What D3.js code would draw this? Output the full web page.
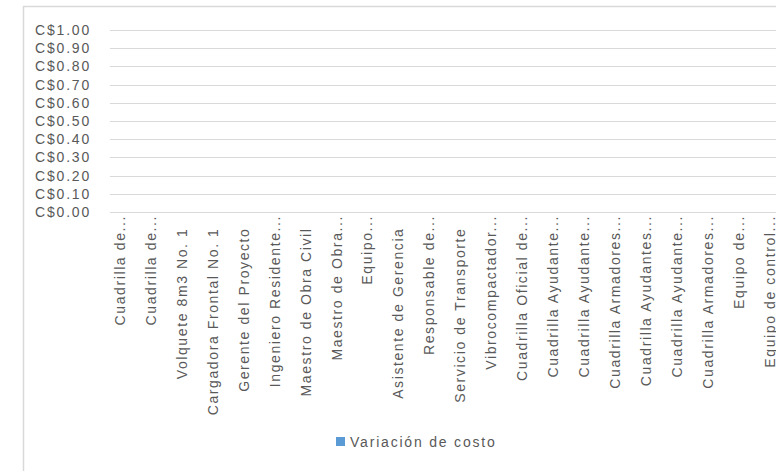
<!DOCTYPE html>
<html>
<head>
<meta charset="utf-8">
<script src="https://cdn.jsdelivr.net/npm/d3@7"></script>
<style>
  html, body { margin: 0; padding: 0; background: #ffffff; }
  svg { display: block; }
  text { font-family: "Liberation Sans", Arial, sans-serif; }
</style>
</head>
<body>
<svg id="chart" width="776" height="471"></svg>
<script>
const categories = [
  "Cuadrilla de...",
  "Cuadrilla de...",
  "Volquete 8m3 No. 1",
  "Cargadora Frontal No. 1",
  "Gerente del Proyecto",
  "Ingeniero Residente...",
  "Maestro de Obra Civil",
  "Maestro de Obra...",
  "Equipo...",
  "Asistente de Gerencia",
  "Responsable de...",
  "Servicio de Transporte",
  "Vibrocompactador...",
  "Cuadrilla Oficial de...",
  "Cuadrilla Ayudante...",
  "Cuadrilla Ayudante...",
  "Cuadrilla Armadores...",
  "Cuadrilla Ayudantes...",
  "Cuadrilla Ayudante...",
  "Cuadrilla Armadores...",
  "Equipo de...",
  "Equipo de control..."
];
const costVariation = [0,0,0,0,0,0,0,0,0,0,0,0,0,0,0,0,0,0,0,0,0,0];
const yTicks = [0, 0.1, 0.2, 0.3, 0.4, 0.5, 0.6, 0.7, 0.8, 0.9, 1.0];
const seriesName = "Variación de costo";

const svg = d3.select("#chart");

// chart area border (cropped at right/bottom)
svg.append("rect")
  .attr("x", 23.5).attr("y", 6.5)
  .attr("width", 900).attr("height", 600)
  .attr("fill", "#ffffff")
  .attr("stroke", "#d9d9d9")
  .attr("stroke-width", 1.5);

const plotLeft = 110;
const y = d3.scaleLinear().domain([0, 1]).range([212, 30]);
const x = d3.scaleBand()
  .domain(d3.range(categories.length))
  .range([104.5, 104.5 + 30.95 * categories.length])
  .paddingInner(0.3).paddingOuter(0.15);

// gridlines
svg.append("g").selectAll("line")
  .data(yTicks)
  .join("line")
  .attr("x1", plotLeft).attr("x2", 800)
  .attr("y1", d => Math.round(y(d)) + 0.5)
  .attr("y2", d => Math.round(y(d)) + 0.5)
  .attr("stroke", "#d9d9d9")
  .attr("stroke-width", 1.2);

// y axis labels
const fmt = d => "C$" + d.toFixed(2);
svg.append("g").selectAll("text")
  .data(yTicks)
  .join("text")
  .attr("x", 91)
  .attr("y", d => y(d))
  .attr("dy", "0.36em")
  .attr("text-anchor", "end")
  .attr("font-size", 14)
  .attr("letter-spacing", "1.8px")
  .attr("fill", "#595959")
  .text(fmt);

// bars (all zero)
svg.append("g").selectAll("rect")
  .data(costVariation)
  .join("rect")
  .attr("x", (d, i) => x(i))
  .attr("width", x.bandwidth())
  .attr("y", d => y(d))
  .attr("height", d => y(0) - y(d))
  .attr("fill", "#5b9bd5");

// x category labels (truncated labels reach closer to the axis)
svg.append("g").selectAll("text")
  .data(categories)
  .join("text")
  .attr("transform", (d, i) => {
    const top = d.endsWith("...") ? 215 : 227.5;
    return `translate(${x(i) + x.bandwidth() / 2},${top}) rotate(-90)`;
  })
  .attr("dy", "0.35em")
  .attr("text-anchor", "end")
  .attr("font-size", 14)
  .attr("letter-spacing", "1.6px")
  .attr("fill", "#595959")
  .text(d => d);

// legend
const legend = svg.append("g");
legend.append("rect")
  .attr("x", 336).attr("y", 437)
  .attr("width", 9).attr("height", 9)
  .attr("fill", "#5b9bd5");
legend.append("text")
  .attr("x", 350).attr("y", 442)
  .attr("dy", "0.35em")
  .attr("font-size", 14)
  .attr("letter-spacing", "1.8px")
  .attr("fill", "#595959")
  .text(seriesName);
</script>
</body>
</html>
